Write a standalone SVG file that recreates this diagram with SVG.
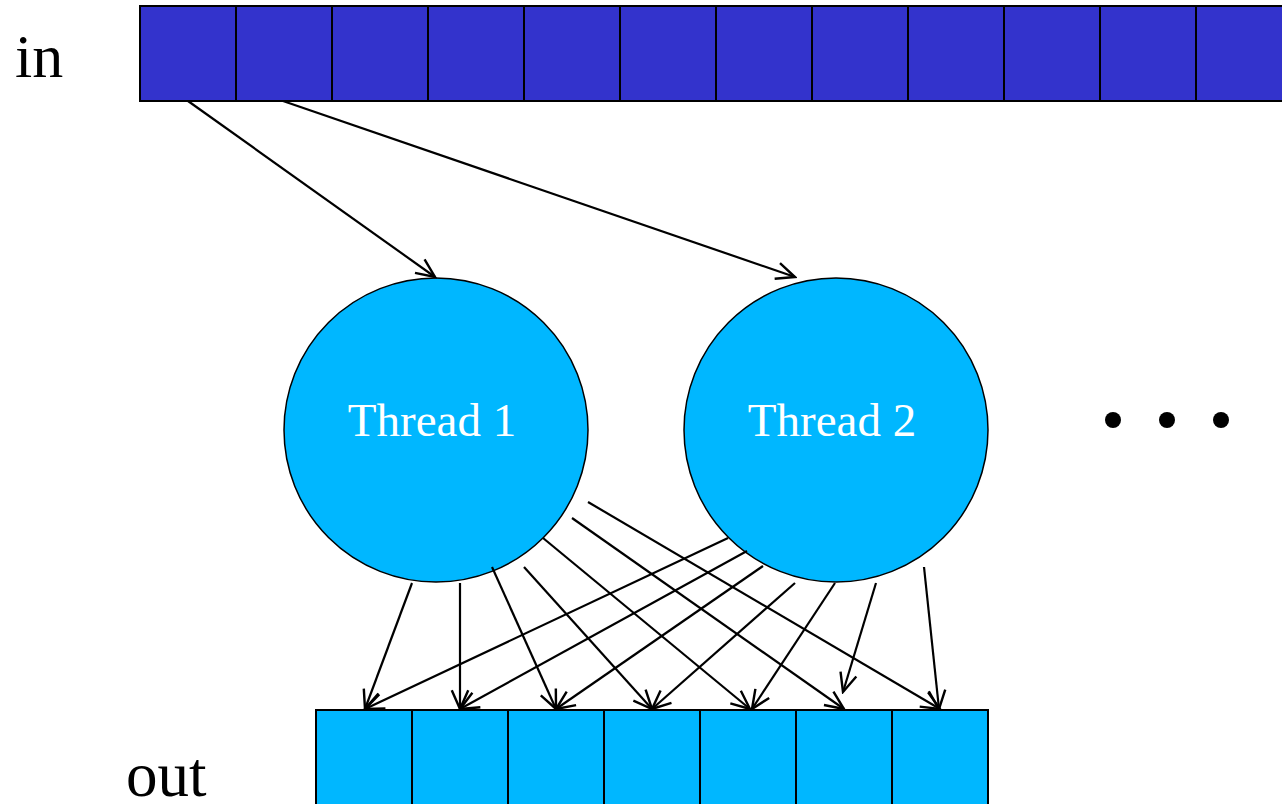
<svg xmlns="http://www.w3.org/2000/svg" width="1282" height="804" viewBox="0 0 1282 804">
<style>
.in{fill:#3333CC;stroke:#000;stroke-width:2}
.out{fill:#00B7FF;stroke:#000;stroke-width:2}
.th{fill:#00B7FF;stroke:#000;stroke-width:1.5}
.lbl{font-family:"Liberation Serif","Times New Roman",serif;fill:#000}
.tl{font-family:"Liberation Serif","Times New Roman",serif;fill:#fff;font-size:47px;text-anchor:middle}
.c line{stroke:#000;stroke-width:2.2;marker-end:url(#ah)}
</style>
<defs>
<marker id="ah" markerUnits="userSpaceOnUse" markerWidth="22" markerHeight="22" viewBox="0 0 20 20" refX="18" refY="10" orient="auto">
<path d="M1,2.5 L18,10 L1,17.5" fill="none" stroke="#000" stroke-width="2.2"/>
</marker>
</defs>
<rect width="1282" height="804" fill="#fff"/>
<g id="in-array">
<rect class="in" x="140" y="6" width="96" height="95"/>
<rect class="in" x="236" y="6" width="96" height="95"/>
<rect class="in" x="332" y="6" width="96" height="95"/>
<rect class="in" x="428" y="6" width="96" height="95"/>
<rect class="in" x="524" y="6" width="96" height="95"/>
<rect class="in" x="620" y="6" width="96" height="95"/>
<rect class="in" x="716" y="6" width="96" height="95"/>
<rect class="in" x="812" y="6" width="96" height="95"/>
<rect class="in" x="908" y="6" width="96" height="95"/>
<rect class="in" x="1004" y="6" width="96" height="95"/>
<rect class="in" x="1100" y="6" width="96" height="95"/>
<rect class="in" x="1196" y="6" width="96" height="95"/>
<text class="lbl" x="15" y="77" font-size="62">in</text>
</g>
<g id="out-array">
<rect class="out" x="316" y="710" width="96" height="100"/>
<rect class="out" x="412" y="710" width="96" height="100"/>
<rect class="out" x="508" y="710" width="96" height="100"/>
<rect class="out" x="604" y="710" width="96" height="100"/>
<rect class="out" x="700" y="710" width="96" height="100"/>
<rect class="out" x="796" y="710" width="96" height="100"/>
<rect class="out" x="892" y="710" width="96" height="100"/>
<text class="lbl" x="126" y="796" font-size="63">out</text>
</g>
<g id="thread1">
<circle class="th" cx="436" cy="430" r="152"/>
<text class="tl" x="432" y="436">Thread 1</text>
</g>
<g id="thread2">
<circle class="th" cx="836" cy="430" r="152"/>
<text class="tl" x="832" y="436">Thread 2</text>
</g>
<g id="ellipsis">
<circle cx="1113" cy="420" r="8" fill="#000"/>
<circle cx="1167" cy="420" r="8" fill="#000"/>
<circle cx="1221" cy="420" r="8" fill="#000"/>
</g>
<g id="connectors" class="c">
<line x1="188" y1="101" x2="435" y2="277"/>
<line x1="283" y1="101" x2="795" y2="277"/>
<line x1="412" y1="583" x2="365" y2="709"/>
<line x1="460" y1="583" x2="460" y2="709"/>
<line x1="492" y1="567" x2="556" y2="709"/>
<line x1="524" y1="567" x2="652" y2="709"/>
<line x1="543" y1="538" x2="750" y2="709"/>
<line x1="572" y1="518" x2="844" y2="709"/>
<line x1="588" y1="502" x2="940" y2="709"/>
<line x1="728" y1="538" x2="365" y2="709"/>
<line x1="747" y1="551" x2="460" y2="709"/>
<line x1="763" y1="566" x2="556" y2="709"/>
<line x1="795" y1="583" x2="652" y2="709"/>
<line x1="835" y1="583" x2="752" y2="709"/>
<line x1="876" y1="583" x2="843" y2="692"/>
<line x1="924" y1="567" x2="939" y2="709"/>
</g>
</svg>
